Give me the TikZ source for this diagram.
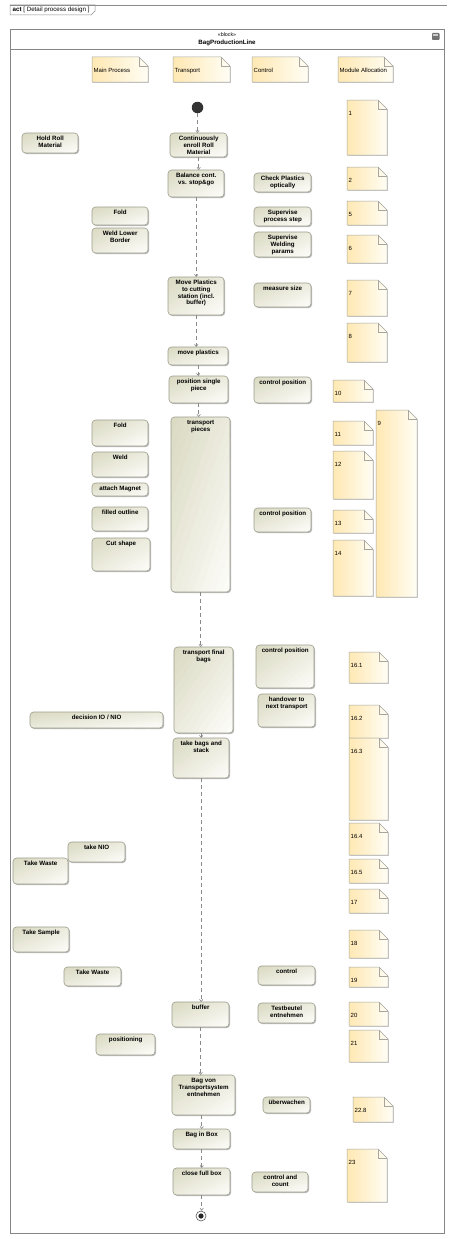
\documentclass[tikz,border=0pt]{standalone}
\usepackage{fontspec}
\setmainfont{Liberation Sans}
\usetikzlibrary{arrows.meta}

\definecolor{actdark}{HTML}{D9D8C0}
\definecolor{actlight}{HTML}{FDFDFA}
\definecolor{actline}{HTML}{9E9E8E}
\definecolor{notedark}{HTML}{FFE8B2}
\definecolor{notelight}{HTML}{FFFDF4}
\definecolor{noteline}{HTML}{A6A69E}
\definecolor{frameline}{HTML}{858585}
\definecolor{flowline}{HTML}{8A8A8A}

\newcommand\actfont{\fontsize{6.2}{6.8}\selectfont\bfseries}
\newcommand\notefont{\fontsize{6}{6.8}\selectfont}

\tikzset{
  actnode/.style={inner sep=0pt},
  actrim/.style={draw=actline, line width=0.6pt, rounded corners=3.5pt},
  actshadow/.style={fill=black, opacity=0.28, rounded corners=3.5pt},
  notetext/.style={inner sep=0pt},
  noterim/.style={draw=noteline, line width=0.5pt},
  noteshadow/.style={fill=black, opacity=0.18},
  flow/.style={draw=flowline, line width=0.6pt, dash pattern=on 4pt off 3pt,
    -{Straight Barb[length=2.2pt,width=3.4pt]}},
  frame/.style={draw=frameline, line width=1.3pt},
  diagtab/.style={draw=black!45, line width=0.5pt},
}

% action: name, left, top, right, bottom, text
% fill runs diagonally from the upper left corner (dark) to the lower right (light)
\newcommand\mdact[6]{%
  \pgfmathsetmacro\bw{#4-#2}\pgfmathsetmacro\bh{#5-#3}%
  \fill[actshadow] ({#2+1.1},{#3+1.1}) rectangle ({#4+1.1},{#5+1.1});
  \begin{scope}
    \clip[rounded corners=3.5pt] (#2,#3) rectangle (#4,#5);
    \foreach \k in {0,...,15}{%
      \pgfmathtruncatemacro\pc{100-100*(\k+0.5)/16}%
      \fill[actdark!\pc!actlight]
        ({#2+\bw*2*\k/16},#3) -- ({#2+\bw*(2*(\k+1)/16+0.03)},#3)
        -- ({#2+\bw*(2*(\k+1)/16+0.03-1)},#5) -- ({#2+\bw*(2*\k/16-1)},#5) -- cycle;
    }
  \end{scope}
  \draw[actrim] (#2,#3) rectangle (#4,#5);
  \node[actnode, anchor=north west] (#1) at (#2,#3)
    {\parbox[c][\bh pt][t]{\bw pt}{\centering\actfont\rule{0pt}{7.2pt}#6}};}

% note with folded corner: name, left, top, right, bottom, text
% fill runs from the left edge (yellow) to the right edge (pale)
\newcommand\mdnote[6]{%
  \pgfmathsetmacro\bw{#4-#2}\pgfmathsetmacro\bh{#5-#3}%
  \fill[noteshadow, shift={(0.9,0.9)}] (#2,#3) -- ({#4-9},#3) -- (#4,{#3+9}) -- (#4,#5) -- (#2,#5) -- cycle;
  \begin{scope}
    \clip (#2,#3) -- ({#4-9},#3) -- (#4,{#3+9}) -- (#4,#5) -- (#2,#5) -- cycle;
    \foreach \k in {0,...,15}{%
      \pgfmathtruncatemacro\pc{100-100*(\k+0.5)/16}%
      \fill[notedark!\pc!notelight] ({#2+\bw*\k/16},#3) rectangle ({#2+\bw*(\k+1)/16+0.4},#5);
    }
  \end{scope}
  \draw[noterim] (#2,#3) -- ({#4-9},#3) -- (#4,{#3+9}) -- (#4,#5) -- (#2,#5) -- cycle;
  \draw[noterim] ({#4-9},#3) -- ({#4-9},{#3+9}) -- (#4,{#3+9});
  \node[notetext, anchor=north west] (#1) at (#2,#3)
    {\parbox[c][\bh pt][t]{\bw pt}{\notefont\hspace*{1.5pt}\rule{0pt}{15pt}#6}};}

\begin{document}
\begin{tikzpicture}[x=1pt, y=-1pt]
\useasboundingbox (0,0) rectangle (451,1239);
\fill[white] (0,0) rectangle (451,1239);

% diagram frame and its name tab
\draw[diagtab] (10,5) -- (447,5);
\draw[diagtab] (10,15) -- (10,5) -- (95,5) -- (95,11) -- (91,15) -- cycle;
\node[anchor=west, inner sep=0pt, font=\fontsize{6.2}{7}\selectfont] (tabname) at (12.5,10.3)
  {\textbf{act} [ Detail process design ]};

% block frame with header
\node[frame, anchor=north west, inner sep=0pt, minimum width=434pt, minimum height=1204pt] (blk) at (10,29) {};
\draw[frameline, line width=1pt] ([yshift=-21pt]blk.north west) -- ([yshift=-21pt]blk.north east);
\node[inner sep=0pt, font=\fontsize{5.3}{6}\selectfont] (stereo) at (227,34.5) {«block»};
\node[inner sep=0pt, font=\fontsize{6.2}{7}\selectfont\bfseries] (blkname) at (227,42.5) {BagProductionLine};
\fill[black!55, rounded corners=0.8pt] (432,33) rectangle (439.5,40);
\fill[black!20] (433.3,34.3) rectangle (438.2,36);

% lane headings
\mdnote{hmain}{92}{57}{148}{82}{Main Process}
\mdnote{htrans}{173}{57}{230}{82}{Transport}
\mdnote{hctrl}{252}{57}{308}{82}{Control}
\mdnote{halloc}{338}{57}{393}{82}{Module Allocation}

% module allocation notes
\mdnote{n1}{347}{100}{387}{155}{1}
\mdnote{n2}{347}{167}{387}{190}{2}
\mdnote{n5}{347}{201}{387}{225}{5}
\mdnote{n6}{347}{235}{387}{263}{6}
\mdnote{n7}{347}{280}{387}{316}{7}
\mdnote{n8}{347}{323}{387}{362}{8}
\mdnote{n10}{333}{380}{373}{402}{10}
\mdnote{n9}{376}{410}{417}{597}{9}
\mdnote{n11}{333}{421}{373}{445}{11}
\mdnote{n12}{333}{451}{373}{499}{12}
\mdnote{n13}{333}{510}{373}{533}{13}
\mdnote{n14}{333}{540}{373}{596}{14}
\mdnote{n161}{349}{652}{388}{683}{16.1}
\mdnote{n162}{349}{705}{388}{738}{16.2}
\mdnote{n163}{349}{738}{388}{820}{16.3}
\mdnote{n164}{349}{823}{388}{855}{16.4}
\mdnote{n165}{349}{859}{388}{883}{16.5}
\mdnote{n17}{349}{889}{388}{913}{17}
\mdnote{n18}{349}{930}{388}{958}{18}
\mdnote{n19}{349}{967}{388}{987}{19}
\mdnote{n20}{349}{1002}{388}{1026}{20}
\mdnote{n21}{349}{1030}{388}{1062}{21}
\mdnote{n228}{353}{1097}{393}{1122}{22.8}
\mdnote{n23}{347}{1149}{387}{1202}{23}

% start and end of the activity
\node[circle, fill=black!80, minimum size=11.5pt, inner sep=0pt] (init) at (197.5,107.5) {};
\node[circle, draw=black!65, line width=0.6pt, fill=white, minimum size=10pt, inner sep=0pt] (fin) at (201,1216) {};
\fill[black!85] (fin.center) circle (2.6pt);

% actions
\mdact{hold}{22}{133}{78}{153}{Hold Roll\\Material}
\mdact{enroll}{170}{133}{227}{157}{Continuously\\enroll Roll\\Material}
\mdact{balance}{168}{170}{224}{197}{Balance cont.\\vs. stop\&go}
\mdact{check}{254}{173}{311}{192}{Check Plastics\\optically}
\mdact{foldA}{92}{207}{148}{225}{Fold}
\mdact{weldlow}{92}{228}{148}{253}{Weld Lower\\Border}
\mdact{supstep}{254}{207}{311}{226}{Supervise\\process step}
\mdact{supweld}{254}{232}{311}{257}{Supervise\\Welding\\params}
\mdact{movecut}{168}{277}{224}{315}{Move Plastics\\to cutting\\station (incl.\\buffer)}
\mdact{measure}{254}{283}{311}{307}{measure size}
\mdact{moveplast}{168}{347}{228}{365}{move plastics}
\mdact{possingle}{169}{376}{228}{403}{position single\\piece}
\mdact{ctrlposA}{254}{377}{311}{403}{control position}
\mdact{transpieces}{171}{417}{230}{592}{transport\\pieces}
\mdact{foldB}{92}{420}{148}{446}{Fold}
\mdact{weld}{92}{452}{148}{477}{Weld}
\mdact{magnet}{92}{483}{148}{496}{attach Magnet}
\mdact{filled}{92}{507}{148}{531}{filled outline}
\mdact{cut}{92}{538}{150}{571}{Cut shape}
\mdact{ctrlposB}{254}{508}{311}{532}{control position}
\mdact{finalbags}{174}{647}{233}{733}{transport final\\bags}
\mdact{ctrlposC}{256}{645}{314}{688}{control position}
\mdact{handover}{258}{694}{315}{727}{handover to\\next transport}
\mdact{decision}{30}{712}{163}{728}{decision IO / NIO}
\mdact{takebags}{173}{738}{229}{778}{take bags and\\stack}
\mdact{takenio}{68}{842}{125}{862}{take NIO}
\mdact{wasteA}{13}{858}{68}{884}{Take Waste}
\mdact{sample}{13}{927}{69}{952}{Take Sample}
\mdact{wasteB}{64}{967}{121}{986}{Take Waste}
\mdact{control}{258}{966}{315}{985}{control}
\mdact{buffer}{172}{1002}{229}{1027}{buffer}
\mdact{testbeutel}{258}{1003}{315}{1023}{Testbeutel\\entnehmen}
\mdact{positioning}{96}{1034}{155}{1055}{positioning}
\mdact{bagvon}{172}{1075}{235}{1115}{Bag von\\Transportsystem\\entnehmen}
\mdact{watch}{263}{1097}{310}{1113}{überwachen}
\mdact{baginbox}{173}{1129}{230}{1149}{Bag in Box}
\mdact{closebox}{173}{1168}{230}{1195}{close full box}
\mdact{ctrlcount}{252}{1172}{308}{1192}{control and\\count}

% control flow
\draw[flow] (init) -- (init |- enroll.north);
\draw[flow] (enroll) -- (enroll |- balance.north);
\draw[flow] (balance) -- (balance |- movecut.north);
\draw[flow] (movecut) -- (movecut |- moveplast.north);
\draw[flow] (moveplast) -- (moveplast |- possingle.north);
\draw[flow] (possingle) -- (possingle |- transpieces.north);
\draw[flow] (transpieces) -- (transpieces |- finalbags.north);
\draw[flow] (takebags |- finalbags.south) -- (takebags);
\draw[flow] (takebags) -- (takebags |- buffer.north);
\draw[flow] (buffer) -- (buffer |- bagvon.north);
\draw[flow] (baginbox |- bagvon.south) -- (baginbox);
\draw[flow] (baginbox) -- (baginbox |- closebox.north);
\draw[flow] (closebox) -- (closebox |- fin.north);
\end{tikzpicture}
\end{document}
